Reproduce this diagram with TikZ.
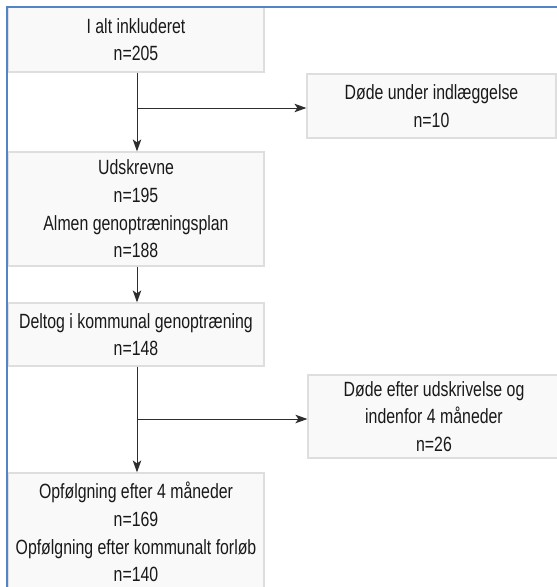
\documentclass[tikz,border=0pt]{standalone}
\usepackage{fontspec}
\setmainfont[FakeStretch=0.77]{Liberation Sans}
\usetikzlibrary{arrows.meta}
\definecolor{boxfill}{RGB}{249,249,249}
\definecolor{boxline}{RGB}{222,222,222}
\definecolor{txt}{RGB}{25,25,25}
\definecolor{conn}{RGB}{45,45,45}
\definecolor{frameblue}{RGB}{84,131,198}
\begin{document}
\begin{tikzpicture}[x=1pt,y=-1pt,
  flowbox/.style={draw=boxline, line width=1.2pt, fill=boxfill, inner sep=0pt,
    align=center, text=txt, font=\fontsize{20.6}{27.6}\selectfont},
  arr/.style={draw=conn, line width=1pt, -{Stealth[length=12pt,width=8.5pt,inset=3pt]}},
  frame/.style={draw=frameblue, line width=2pt}]
\clip (0,0) rectangle (557,587);
\fill[white] (0,0) rectangle (557,587);

% main column
\node[flowbox, minimum width=256pt, minimum height=65pt] (b1) at (136,39.5)
  {I alt inkluderet\\n=205};
\node[flowbox, minimum width=256pt, minimum height=114pt] (b2) at (136,209)
  {Udskrevne\\n=195\\Almen genoptræningsplan\\n=188};
\node[flowbox, minimum width=256pt, minimum height=63pt] (b3) at (136,334.5)
  {Deltog i kommunal genoptræning\\n=148};
\node[flowbox, minimum width=256pt, minimum height=118pt] (b4) at (136,532)
  {Opfølgning efter 4 måneder\\n=169\\Opfølgning efter kommunalt forløb\\n=140};

% side boxes
\node[flowbox, minimum width=249pt, minimum height=64pt] (d1) at (431.5,106)
  {Døde under indlæggelse\\n=10};
\node[flowbox, minimum width=252pt, minimum height=83pt] (d2) at (434,416.5)
  {Døde efter udskrivelse og\\indenfor 4 måneder\\n=26};

% connectors
\coordinate (j1) at (137,108);
\coordinate (j2) at (137,419);
\draw[arr] (b1.south -| j1) -- (b2.north -| j1);
\draw[arr] (j1) -- (j1 -| d1.west);
\draw[arr] (b2.south -| j1) -- (b3.north -| j1);
\draw[arr] (b3.south -| j2) -- (b4.north -| j2);
\draw[arr] (j2) -- (j2 -| d2.west);

% frame along the top and left edges
\draw[frame] (7,590) -- (7,6.5) -- (560,6.5);
\end{tikzpicture}
\end{document}
